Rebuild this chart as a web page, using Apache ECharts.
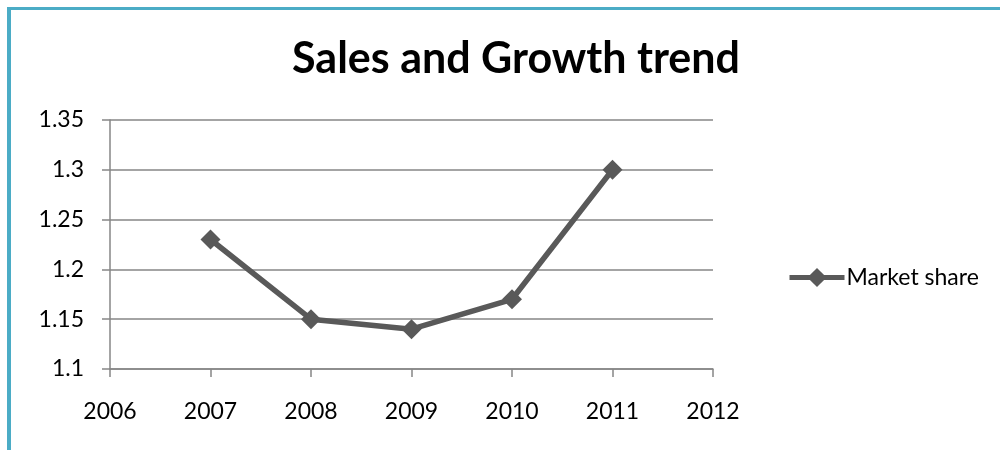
<!DOCTYPE html>
<html>
<head>
<meta charset="utf-8">
<script src="https://cdn.jsdelivr.net/npm/echarts@6/dist/echarts.min.js"></script>
<style>
  html, body { margin: 0; padding: 0; background: #fff; }
  #chart { width: 1000px; height: 450px; }
</style>
</head>
<body>
<div id="chart"></div>
<script>
// Yearly market share values
const years = [2007, 2008, 2009, 2010, 2011];
const marketShare = [1.23, 1.15, 1.14, 1.17, 1.30];
const seriesName = 'Market share';
const titleText = 'Sales and Growth trend';

const fontFam = 'Lato, "Open Sans", sans-serif';
const lineColor = '#595959';
const axisColor = '#868686';
const chart = echarts.init(document.getElementById('chart'), null, { renderer: 'canvas' });

chart.setOption({
  animation: false,
  backgroundColor: '#ffffff',
  title: {
    text: titleText,
    left: 511,
    textAlign: 'center',
    top: 33,
    textStyle: { fontFamily: fontFam, fontWeight: 'bold', fontSize: 43, color: '#000' }
  },
  // frame along the top and left edges
  graphic: [
    { type: 'rect', shape: { x: 7, y: 7, width: 4, height: 450 }, style: { fill: '#4BACC6' } },
    { type: 'rect', shape: { x: 7, y: 7, width: 1000, height: 3 }, style: { fill: '#4BACC6' } }
  ],
  legend: {
    data: [seriesName],
    left: 782,
    top: 261,
    itemWidth: 55,
    itemHeight: 24,
    itemGap: 4,
    lineStyle: { width: 5, color: lineColor },
    itemStyle: { color: lineColor },
    textStyle: { fontFamily: fontFam, fontSize: 23, color: '#000', padding: [0, 0, 0, -3] }
  },
  grid: { left: 110, right: 287, top: 120, bottom: 81 },
  xAxis: {
    type: 'value',
    min: 2006, max: 2012, interval: 1,
    axisLine: { show: true, lineStyle: { color: axisColor, width: 1.5 } },
    axisTick: { show: true, length: 8, lineStyle: { color: axisColor, width: 1.5 } },
    splitLine: { show: false },
    axisLabel: {
      fontFamily: fontFam, fontSize: 23, color: '#000', margin: 31,
      formatter: v => String(v)
    }
  },
  yAxis: {
    type: 'value',
    min: 1.1, max: 1.35, interval: 0.05,
    axisLine: { show: true, lineStyle: { color: axisColor, width: 1.5 } },
    axisTick: { show: true, length: 8, lineStyle: { color: axisColor, width: 1.5 } },
    splitLine: { show: true, lineStyle: { color: axisColor, width: 1.5 } },
    axisLabel: {
      fontFamily: fontFam, fontSize: 23, color: '#000', margin: 26,
      formatter: v => String(+v.toFixed(2))
    }
  },
  series: [{
    name: seriesName,
    type: 'line',
    data: years.map((y, i) => [y, marketShare[i]]),
    symbol: 'diamond',
    symbolSize: 20,
    lineStyle: { color: lineColor, width: 5.5 },
    itemStyle: { color: lineColor }
  }]
});
</script>
</body>
</html>
